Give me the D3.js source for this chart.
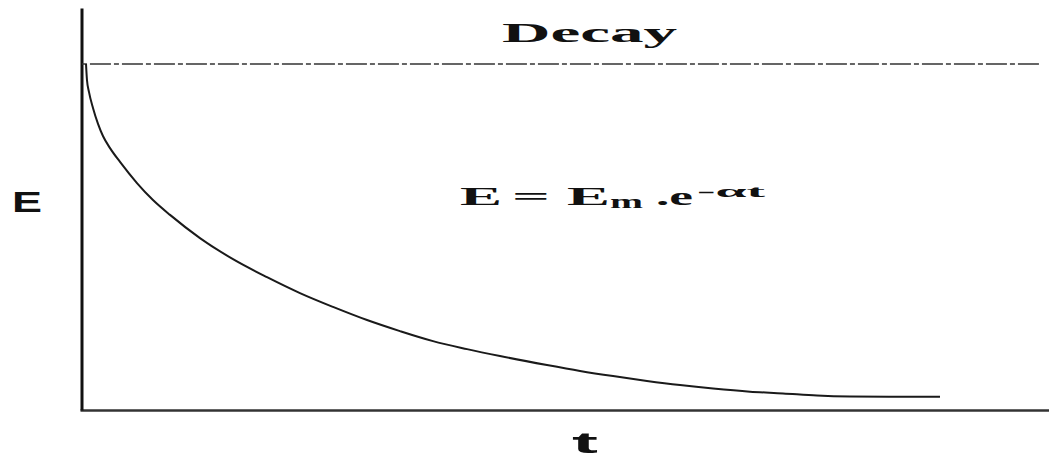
<!DOCTYPE html>
<html>
<head>
<meta charset="utf-8">
<script src="https://cdn.jsdelivr.net/npm/d3@7"></script>
<style>
  html, body { margin: 0; padding: 0; background: #fff; }
  svg { display: block; }
</style>
</head>
<body>
<svg id="chart" width="1049" height="458"></svg>
<script>
// Decay curve E(t), sampled points
const timeValues = [0.062, 0.072, 0.093, 0.134, 0.186, 0.237, 0.310, 0.413, 0.588, 0.753, 0.929, 1.238, 1.579, 1.930, 2.270, 2.611, 2.962, 3.302, 3.643, 3.994, 4.334, 4.819, 5.160, 5.501, 5.851, 6.192, 6.533, 6.914, 7.255, 7.606, 7.946, 8.359, 8.875];
const energyValues = [1.000, 0.954, 0.919, 0.873, 0.827, 0.792, 0.757, 0.717, 0.656, 0.607, 0.564, 0.497, 0.436, 0.384, 0.338, 0.298, 0.260, 0.228, 0.199, 0.176, 0.156, 0.130, 0.113, 0.098, 0.084, 0.072, 0.062, 0.053, 0.048, 0.042, 0.039, 0.038, 0.038];

// Peak level Em (dashed reference line)
const peakLevel = 1.0;
const peakSpan = [0.02, 9.91];

// Axis domains
const timeDomain = [0, 10];
const energyDomain = [0, 1.162];

// Labels
const titleText = "Decay";
const xLabel = "t";
const yLabel = "E";

const svg = d3.select("#chart");

const x = d3.scaleLinear().domain(timeDomain).range([80, 1049]);
const y = d3.scaleLinear().domain(energyDomain).range([410, 8]);

// Axes: plain lines without ticks
svg.append("g")
  .attr("transform", `translate(0,${y(0)})`)
  .call(d3.axisBottom(x).tickValues([]).tickSizeOuter(0))
  .call(g => g.select(".domain").attr("stroke", "#333").attr("stroke-width", 2.5));

svg.append("g")
  .attr("transform", `translate(${x(0) + 1.5},0)`)
  .call(d3.axisLeft(y).tickValues([]).tickSizeOuter(0))
  .call(g => g.select(".domain").attr("stroke", "#111").attr("stroke-width", 3));

// Dashed peak line
svg.append("line")
  .attr("x1", x(peakSpan[0]))
  .attr("x2", x(peakSpan[1]))
  .attr("y1", y(peakLevel))
  .attr("y2", y(peakLevel))
  .attr("stroke", "#333")
  .attr("stroke-width", 1.5)
  .attr("stroke-dasharray", "5,3,21,3");

// Decay curve
const points = timeValues.map((t, i) => [t, energyValues[i]]);
const line = d3.line()
  .x(d => x(d[0]))
  .y(d => y(d[1]))
  .curve(d3.curveMonotoneX);

svg.append("path")
  .datum(points)
  .attr("fill", "none")
  .attr("stroke", "#1a1a1a")
  .attr("stroke-width", 2)
  .attr("d", line);

const serif = "'Liberation Serif', 'Times New Roman', serif";
const sans = "'Liberation Sans', Arial, sans-serif";

function label(txt, px, py, size, len, family) {
  return svg.append("text")
    .attr("x", px)
    .attr("y", py)
    .attr("font-family", family)
    .attr("font-weight", "bold")
    .attr("font-size", size)
    .attr("fill", "#111")
    .attr("textLength", len)
    .attr("lengthAdjust", "spacingAndGlyphs")
    .text(txt);
}

// Title
label(titleText, 502, 42, 28, 175, serif);

// Axis labels
label(yLabel, 12, 212, 30, 30, sans);
label(xLabel, 572, 453, 30, 26, sans);

// Formula E = Em .e^(-αt)
label("E", 460, 205, 26, 42, serif);
label("=", 512, 205, 26, 38, serif);
label("E", 567, 205, 26, 43, serif);
label("m", 610, 208, 18, 33, serif);
label(".e", 656, 205, 26, 37, serif);
label("-αt", 697, 197, 17, 68, serif);
</script>
</body>
</html>
